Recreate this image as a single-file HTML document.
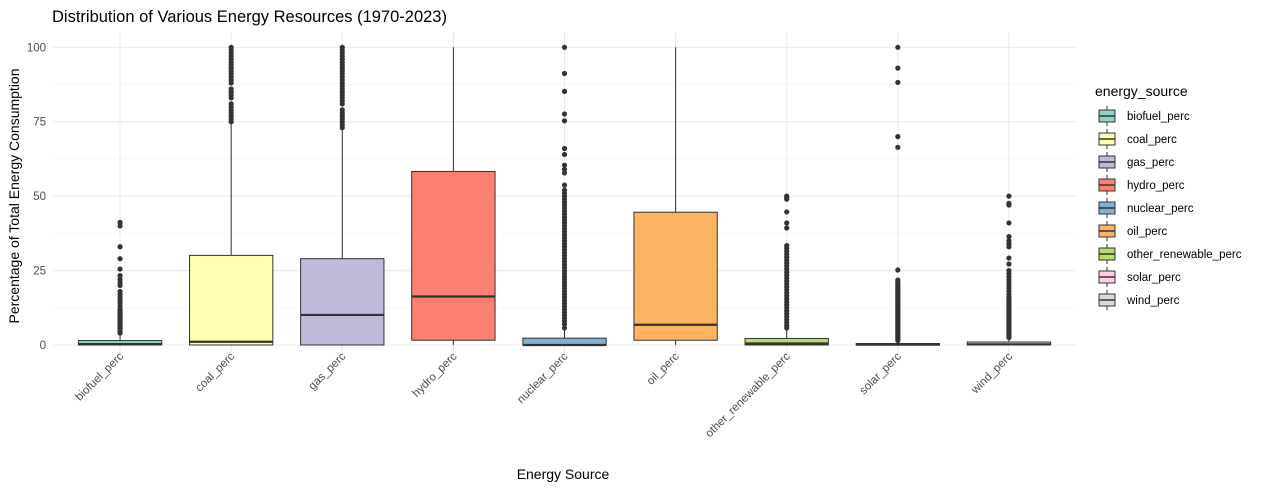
<!DOCTYPE html>
<html><head><meta charset="utf-8"><style>
body{margin:0;background:#fff;}
svg text{font-family:"Liberation Sans",sans-serif;}
</style></head><body>
<svg id="chart" width="1266" height="489" xmlns="http://www.w3.org/2000/svg">
<rect width="1266" height="489" fill="#fff"/>
<text x="52" y="22" font-size="16.5" fill="#000">Distribution of Various Energy Resources (1970-2023)</text>
<text x="563" y="479" font-size="14" text-anchor="middle" fill="#000">Energy Source</text>
<text transform="translate(19,196) rotate(-90)" font-size="14" text-anchor="middle" fill="#000">Percentage of Total Energy Consumption</text>
<g id="grid"></g><g id="marks"></g><g id="axes"></g><g id="legend"></g>
</svg>
<script>
const categories=["biofuel_perc","coal_perc","gas_perc","hydro_perc","nuclear_perc","oil_perc","other_renewable_perc","solar_perc","wind_perc"];
const colors=["#8DD3C7","#FFFFB3","#BEBADA","#FB8072","#80B1D3","#FDB462","#B3DE69","#FCCDE5","#D9D9D9"];
const lowerWhisker=[0,0,0,0,0,0,0,0,0];
const q1=[0,0,0,1.6,0,1.6,0,0,0];
const median=[0.3,1.1,10.1,16.3,0,6.8,0.5,0.1,0.2];
const q3=[1.5,30.1,29,58.3,2.3,44.6,2.2,0.5,1.0];
const upperWhisker=[4,75,73,100,5.6,100,5.6,1.3,2.5];
const outliers=[
[4,4.5,5,5.5,6,6.5,7,7.5,8,8.5,9,9.5,10,10.5,11,11.5,12,13,14,15,16,17,18,20,21,22,23.3,25.5,29,33,40,41.2],
[75,76,77,78,79,80,81,83,84,85,86,88,89,90,91,92,93,94,95,96,97,98,99,100],
[73,74,75,76,77,78,79,81,82,83,84,85,86,87,88,89,90,91,92,93,94,95,96,97,98,99,100],
[],
[5.7,7,8,9,10,11,12,13,14,15,16,17,18,19,20,21,22,23,24,25,26,27,28,29,30,31,32,33,34,35,36,37,38,39,40,41,42,43,44,45,46,47,48,49,50,51,52,53.7,57.8,59,60.4,64,66,75.3,77.6,85.2,91.2,100],
[],
[5.7,6.5,7.5,8.5,9.5,10.5,11.5,12.5,13.5,14.5,15.5,16.5,17.5,18.5,19.5,20.5,21.5,22.5,23.5,24.5,25.5,26.5,27.5,28.5,29.5,30.5,31.5,32.5,33.4,39.3,41,44.7,49,49.5,50],
[1.5,2,2.5,3,3.5,4,4.5,5,5.5,6,6.5,7,7.5,8,8.5,9,9.5,10,10.5,11,11.5,12,12.5,13,13.5,14,14.5,15,15.5,16,16.5,17,17.5,18,18.5,19,19.5,20,20.5,21,21.8,25.2,66.4,70,88.2,93,100],
[2.5,3,3.5,4,4.5,5,5.5,6,6.5,7,7.5,8,8.5,9,9.5,10,10.5,11,11.5,12,12.5,13,13.5,14,14.5,15,15.5,16,17,18,19,20,21,22,23,24,25,27.2,29.2,33,34,35,36.4,41,47,47.6,50]
];
const yTicks=[0,25,50,75,100];
const NS="http://www.w3.org/2000/svg";
const left=53.4,right=1075.6,top0=47.3,bot0=345;
const step=(right-left)/(categories.length+0.2);
const xs=i=>left+step*(0.6+i);
const ys=v=>bot0-(bot0-top0)*v/100;
function mk(tag,attrs,parent){const e=document.createElementNS(NS,tag);for(const k in attrs)e.setAttribute(k,attrs[k]);parent.appendChild(e);return e;}
const grid=document.getElementById('grid'),marks=document.getElementById('marks'),axes=document.getElementById('axes'),legend=document.getElementById('legend');
[12.5,37.5,62.5,87.5].forEach(v=>{const l=mk('line',{x1:left,x2:right,y1:ys(v),y2:ys(v),stroke:'#f1f1f1','stroke-width':0.6},grid);

});
yTicks.forEach(v=>{const l=mk('line',{x1:left,x2:right,y1:ys(v),y2:ys(v),stroke:'#ebebeb','stroke-width':1.1},grid);


const t=mk('text',{x:46,y:ys(v)+4,'font-size':11.5,'text-anchor':'end',fill:'#4d4d4d'},axes);t.textContent=v;

});
categories.forEach((c,i)=>{const x=xs(i);
const g=mk('line',{x1:x,x2:x,y1:32,y2:360,stroke:'#ebebeb','stroke-width':1.1},grid);


const bw=step*0.75;
const grp=mk('g',{},marks);


mk('line',{x1:x,x2:x,y1:ys(q3[i]),y2:ys(upperWhisker[i]),stroke:'#333','stroke-width':1},grp);
mk('line',{x1:x,x2:x,y1:ys(q1[i]),y2:ys(lowerWhisker[i]),stroke:'#333','stroke-width':1},grp);
mk('rect',{x:x-bw/2,y:ys(q3[i]),width:bw,height:Math.max(ys(q1[i])-ys(q3[i]),0.5),fill:colors[i],stroke:'#333','stroke-width':1},grp);
mk('line',{x1:x-bw/2,x2:x+bw/2,y1:ys(median[i]),y2:ys(median[i]),stroke:'#333','stroke-width':2.2},grp);
outliers[i].forEach(v=>{const p=mk('circle',{cx:x,cy:ys(v),r:2.6,fill:'#333'},grp);

});
const t=mk('text',{transform:`translate(${x+4},${357}) rotate(-45)`,'font-size':11.5,'text-anchor':'end',fill:'#4d4d4d'},axes);t.textContent=c;

});
const lt=mk('text',{x:1095,y:96,'font-size':14,fill:'#000'},legend);lt.textContent='energy_source';


categories.forEach((c,i)=>{const y=116+i*23;
const g=mk('g',{},legend);


mk('line',{x1:1107,x2:1107,y1:y-10,y2:y+10,stroke:'#333','stroke-width':1},g);
mk('rect',{x:1099,y:y-6,width:16,height:12,fill:colors[i],stroke:'#333','stroke-width':1},g);
mk('line',{x1:1099,x2:1115,y1:y,y2:y,stroke:'#333','stroke-width':1.5},g);
const t=mk('text',{x:1127,y:y+4,'font-size':11.5,fill:'#000'},g);t.textContent=c;});
</script>
</body></html>
